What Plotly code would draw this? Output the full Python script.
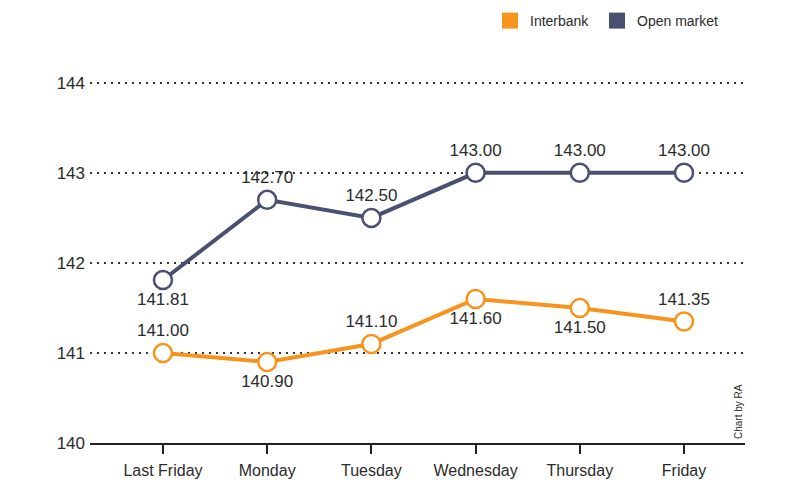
import plotly.graph_objects as go

days = ["Last Friday", "Monday", "Tuesday", "Wednesday", "Thursday", "Friday"]
interbank = [141.00, 140.90, 141.10, 141.60, 141.50, 141.35]
open_market = [141.81, 142.70, 142.50, 143.00, 143.00, 143.00]
interbank_pos = ["top center", "bottom center", "top center", "bottom center", "bottom center", "top center"]
open_pos = ["bottom center", "top center", "top center", "top center", "top center", "top center"]
y_ticks = [140, 141, 142, 143, 144]

ORANGE = "#F7941D"
NAVY = "#4A5071"
TXT = "#2b2b2b"
FONT = "Liberation Sans, Arial"

fig = go.Figure()

def add_series(name, vals, pos, color, legend):
    fig.add_trace(go.Scatter(
        x=days, y=vals, mode="lines+markers+text",
        text=[f"{v:.2f}" for v in vals], textposition=pos,
        textfont=dict(size=17, color=TXT, family=FONT),
        line=dict(color=color, width=4),
        marker=dict(size=18, color="white", line=dict(color=color, width=2.5)),
        showlegend=False, cliponaxis=False, name=name, hoverinfo="skip"))
    fig.add_trace(go.Scatter(
        x=[None], y=[None], mode="markers", name=name, legend=legend,
        marker=dict(symbol="square", size=17, color=color), showlegend=True))

add_series("Interbank", interbank, interbank_pos, ORANGE, "legend")
add_series("Open market", open_market, open_pos, NAVY, "legend2")

PW, PH = 655, 362
def leg(xpx):
    return dict(orientation="h", x=(xpx - 90) / PW, xref="paper",
                y=1 + (81 - 5) / PH, yref="paper",
                xanchor="left", yanchor="top", font=dict(size=14, family=FONT),
                itemwidth=30, bgcolor="rgba(0,0,0,0)")

fig.update_layout(
    width=800, height=480,
    margin=dict(l=90, r=55, t=81, b=37, autoexpand=False),
    paper_bgcolor="white", plot_bgcolor="white",
    font=dict(family=FONT, color=TXT, size=14),
    legend=leg(490),
    legend2=leg(597),
    xaxis=dict(type="category", range=[-0.7, 5.585], showgrid=False,
               showline=True, linecolor="#222", linewidth=2,
               ticks="outside", ticklen=9, tickwidth=2, tickcolor="#222",
               tickfont=dict(size=16, color=TXT), zeroline=False,
               ticklabelstandoff=3, fixedrange=True, automargin=False),
    yaxis=dict(range=[140, 144.02], tickvals=y_ticks, showgrid=True,
               gridcolor="#333", griddash="2px,5px", gridwidth=2,
               showline=False, zeroline=False, ticks="", ticklabelstandoff=4,
               tickfont=dict(size=17, color=TXT), fixedrange=True,
               automargin=False),
)

fig.add_annotation(text="Chart by RA", xref="paper", yref="paper",
                   x=1.0, y=0.0, xanchor="right", yanchor="bottom",
                   xshift=1, yshift=2, textangle=-90, showarrow=False,
                   font=dict(size=10, color=TXT))

fig.write_html("out.html", config={"displayModeBar": False},
               post_script="document.body.style.margin='0px';")
